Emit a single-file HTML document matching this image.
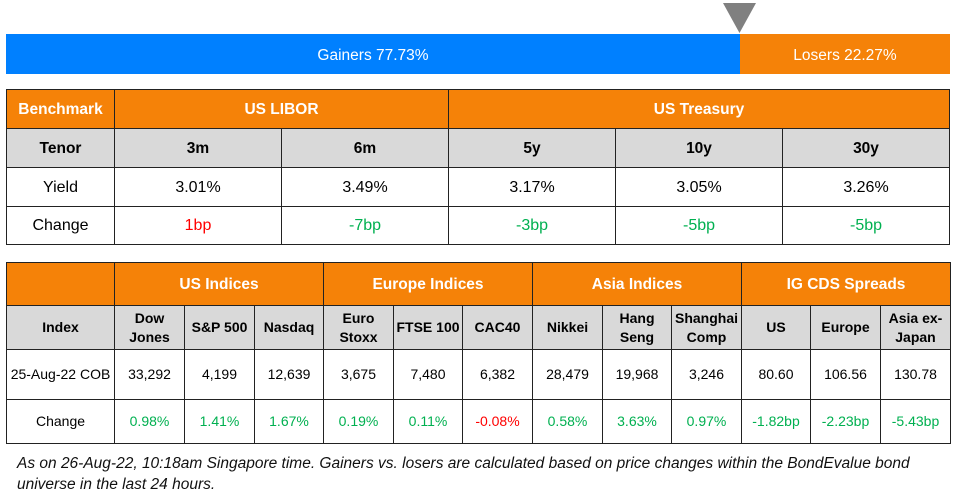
<!DOCTYPE html>
<html><head><meta charset="utf-8">
<style>
html,body{margin:0;padding:0;background:#fff;}
body{width:955px;height:495px;position:relative;overflow:hidden;font-family:"Liberation Sans",Arial,sans-serif;color:#000;}
.c{position:absolute;box-sizing:border-box;border:1px solid #222;display:flex;align-items:center;justify-content:center;text-align:center;line-height:19px;}
.o{background:#F58208;color:#fff;font-weight:bold;font-size:15.5px;}
.g{background:#D9D9D9;font-weight:bold;}
.w{background:#fff;}
.t1{font-size:16px;}
.t2{font-size:14px;}
.gr{color:#00B050;}
.rd{color:#FF0000;}
.bar{position:absolute;top:34px;height:40px;box-sizing:border-box;padding-top:3px;color:#fff;font-size:15.5px;display:flex;align-items:center;justify-content:center;}
.fn{position:absolute;left:17px;font-style:italic;font-size:15.5px;white-space:nowrap;color:#111;}
</style></head>
<body>
<svg style="position:absolute;left:0;top:0" width="955" height="40"><polygon points="723,3 756,3 739.5,33" fill="#808080"/></svg>
<div class="bar" style="left:6px;width:734px;background:#0080FF;">Gainers 77.73%</div>
<div class="bar" style="left:740px;width:210px;background:#F58208;">Losers 22.27%</div>

<!-- Table 1 -->
<div class="c o" style="left:6px;top:89px;width:109px;height:40px;">Benchmark</div>
<div class="c o" style="left:114px;top:89px;width:335px;height:40px;">US LIBOR</div>
<div class="c o" style="left:448px;top:89px;width:502px;height:40px;">US Treasury</div>

<div class="c g t1" style="left:6px;top:128px;width:109px;height:40px;font-size:15.5px;">Tenor</div>
<div class="c g t1" style="left:114px;top:128px;width:168px;height:40px;font-size:15.5px;">3m</div>
<div class="c g t1" style="left:281px;top:128px;width:168px;height:40px;font-size:15.5px;">6m</div>
<div class="c g t1" style="left:448px;top:128px;width:168px;height:40px;font-size:15.5px;">5y</div>
<div class="c g t1" style="left:615px;top:128px;width:168px;height:40px;font-size:15.5px;">10y</div>
<div class="c g t1" style="left:782px;top:128px;width:168px;height:40px;font-size:15.5px;">30y</div>

<div class="c w t1" style="left:6px;top:167px;width:109px;height:40px;">Yield</div>
<div class="c w t1" style="left:114px;top:167px;width:168px;height:40px;">3.01%</div>
<div class="c w t1" style="left:281px;top:167px;width:168px;height:40px;">3.49%</div>
<div class="c w t1" style="left:448px;top:167px;width:168px;height:40px;">3.17%</div>
<div class="c w t1" style="left:615px;top:167px;width:168px;height:40px;">3.05%</div>
<div class="c w t1" style="left:782px;top:167px;width:168px;height:40px;">3.26%</div>

<div class="c w t1" style="left:6px;top:206px;width:109px;height:39px;">Change</div>
<div class="c w t1 rd" style="left:114px;top:206px;width:168px;height:39px;">1bp</div>
<div class="c w t1 gr" style="left:281px;top:206px;width:168px;height:39px;">-7bp</div>
<div class="c w t1 gr" style="left:448px;top:206px;width:168px;height:39px;">-3bp</div>
<div class="c w t1 gr" style="left:615px;top:206px;width:168px;height:39px;">-5bp</div>
<div class="c w t1 gr" style="left:782px;top:206px;width:168px;height:39px;">-5bp</div>

<!-- Table 2 -->
<div class="c o" style="left:6px;top:262px;width:109px;height:44px;"></div>
<div class="c o" style="left:114px;top:262px;width:210px;height:44px;">US Indices</div>
<div class="c o" style="left:323px;top:262px;width:210px;height:44px;">Europe Indices</div>
<div class="c o" style="left:532px;top:262px;width:210px;height:44px;">Asia Indices</div>
<div class="c o" style="left:741px;top:262px;width:210px;height:44px;">IG CDS Spreads</div>

<div class="c g t2" style="left:6px;top:305px;width:109px;height:45px;">Index</div>
<div class="c g t2" style="left:114px;top:305px;width:71px;height:45px;">Dow<br>Jones</div>
<div class="c g t2" style="left:184px;top:305px;width:71px;height:45px;">S&amp;P 500</div>
<div class="c g t2" style="left:254px;top:305px;width:70px;height:45px;">Nasdaq</div>
<div class="c g t2" style="left:323px;top:305px;width:71px;height:45px;">Euro<br>Stoxx</div>
<div class="c g t2" style="left:393px;top:305px;width:70px;height:45px;">FTSE 100</div>
<div class="c g t2" style="left:462px;top:305px;width:71px;height:45px;">CAC40</div>
<div class="c g t2" style="left:532px;top:305px;width:71px;height:45px;">Nikkei</div>
<div class="c g t2" style="left:602px;top:305px;width:70px;height:45px;">Hang<br>Seng</div>
<div class="c g t2" style="left:671px;top:305px;width:71px;height:45px;">Shanghai<br>Comp</div>
<div class="c g t2" style="left:741px;top:305px;width:70px;height:45px;">US</div>
<div class="c g t2" style="left:810px;top:305px;width:71px;height:45px;">Europe</div>
<div class="c g t2" style="left:880px;top:305px;width:71px;height:45px;">Asia ex-<br>Japan</div>

<div class="c w t2" style="left:6px;top:349px;width:109px;height:51px;">25-Aug-22 COB</div>
<div class="c w t2" style="left:114px;top:349px;width:71px;height:51px;">33,292</div>
<div class="c w t2" style="left:184px;top:349px;width:71px;height:51px;">4,199</div>
<div class="c w t2" style="left:254px;top:349px;width:70px;height:51px;">12,639</div>
<div class="c w t2" style="left:323px;top:349px;width:71px;height:51px;">3,675</div>
<div class="c w t2" style="left:393px;top:349px;width:70px;height:51px;">7,480</div>
<div class="c w t2" style="left:462px;top:349px;width:71px;height:51px;">6,382</div>
<div class="c w t2" style="left:532px;top:349px;width:71px;height:51px;">28,479</div>
<div class="c w t2" style="left:602px;top:349px;width:70px;height:51px;">19,968</div>
<div class="c w t2" style="left:671px;top:349px;width:71px;height:51px;">3,246</div>
<div class="c w t2" style="left:741px;top:349px;width:70px;height:51px;">80.60</div>
<div class="c w t2" style="left:810px;top:349px;width:71px;height:51px;">106.56</div>
<div class="c w t2" style="left:880px;top:349px;width:71px;height:51px;">130.78</div>

<div class="c w t2" style="left:6px;top:399px;width:109px;height:45px;">Change</div>
<div class="c w t2 gr" style="left:114px;top:399px;width:71px;height:45px;">0.98%</div>
<div class="c w t2 gr" style="left:184px;top:399px;width:71px;height:45px;">1.41%</div>
<div class="c w t2 gr" style="left:254px;top:399px;width:70px;height:45px;">1.67%</div>
<div class="c w t2 gr" style="left:323px;top:399px;width:71px;height:45px;">0.19%</div>
<div class="c w t2 gr" style="left:393px;top:399px;width:70px;height:45px;">0.11%</div>
<div class="c w t2 rd" style="left:462px;top:399px;width:71px;height:45px;">-0.08%</div>
<div class="c w t2 gr" style="left:532px;top:399px;width:71px;height:45px;">0.58%</div>
<div class="c w t2 gr" style="left:602px;top:399px;width:70px;height:45px;">3.63%</div>
<div class="c w t2 gr" style="left:671px;top:399px;width:71px;height:45px;">0.97%</div>
<div class="c w t2 gr" style="left:741px;top:399px;width:70px;height:45px;">-1.82bp</div>
<div class="c w t2 gr" style="left:810px;top:399px;width:71px;height:45px;">-2.23bp</div>
<div class="c w t2 gr" style="left:880px;top:399px;width:71px;height:45px;">-5.43bp</div>

<div class="fn" style="top:455px;">As on 26-Aug-22, 10:18am Singapore time. Gainers vs. losers are calculated based on price changes within the BondEvalue bond</div>
<div class="fn" style="top:476px;">universe in the last 24 hours.</div>
</body></html>
